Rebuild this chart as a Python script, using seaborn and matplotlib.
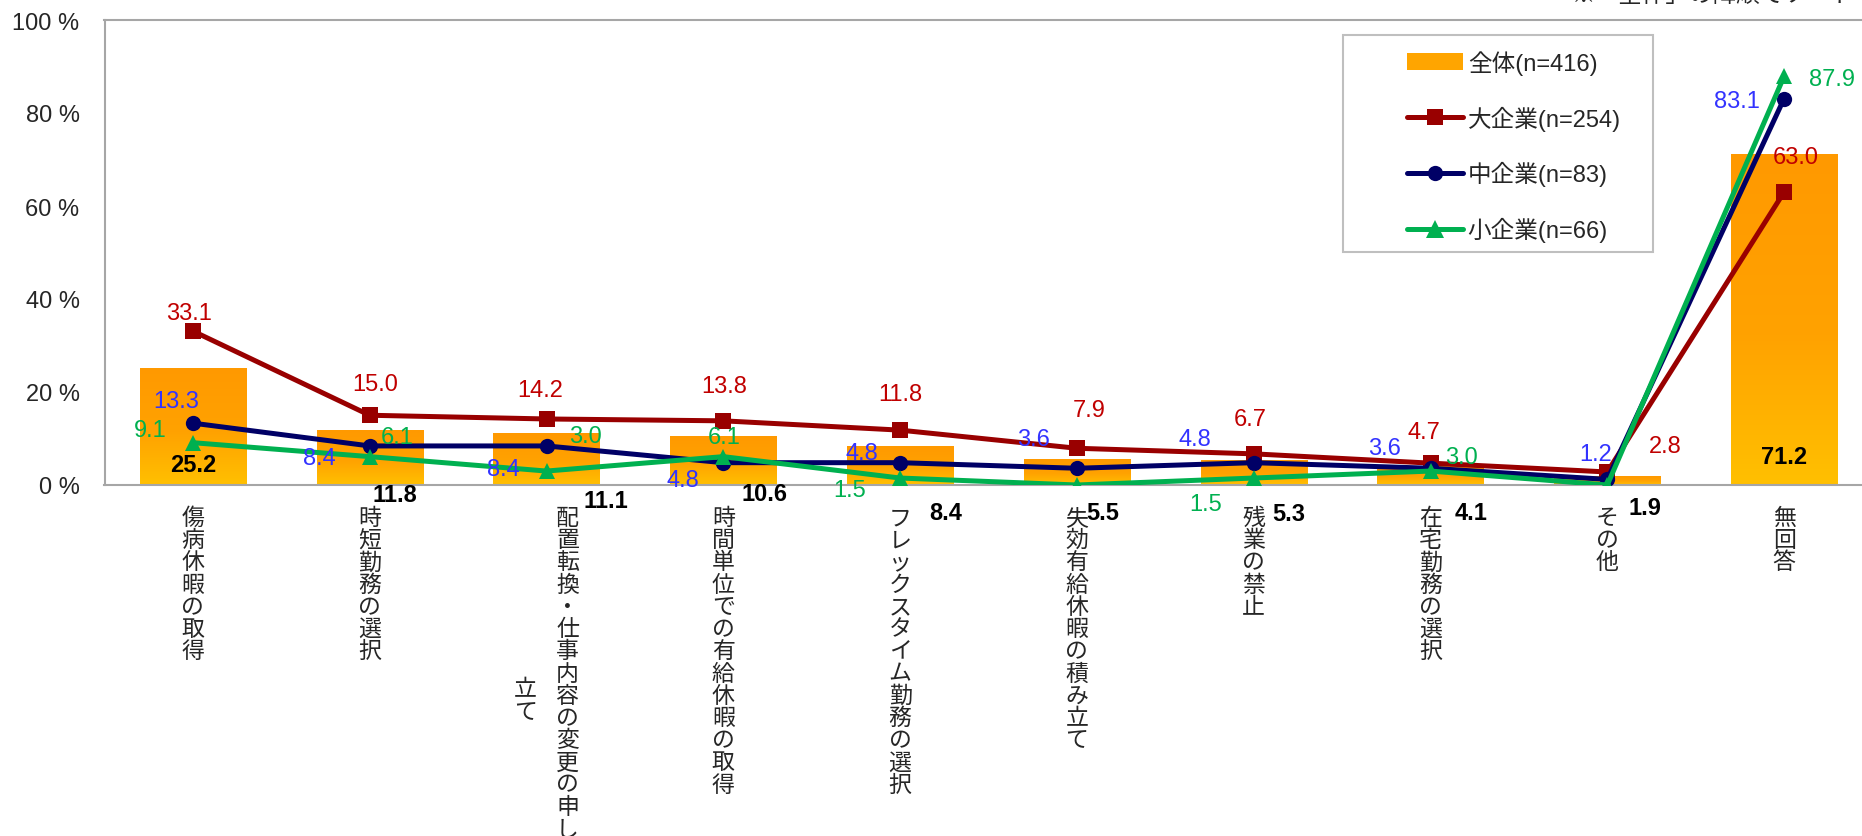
import numpy as np
import pandas as pd
import matplotlib
matplotlib.use('Agg')
import matplotlib.pyplot as plt
from matplotlib.colors import LinearSegmentedColormap
from matplotlib.lines import Line2D
from matplotlib.patches import Patch, Rectangle
import seaborn as sns

# data
categories = ['傷病休暇の取得', '時短勤務の選択', '配置転換・仕事内容の変更の申し立て',
              '時間単位での有給休暇の取得', 'フレックスタイム勤務の選択',
              '失効有給休暇の積み立て', '残業の禁止', '在宅勤務の選択', 'その他', '無回答']
total = [25.2, 11.8, 11.1, 10.6, 8.4, 5.5, 5.3, 4.1, 1.9, 71.2]
large = [33.1, 15.0, 14.2, 13.8, 11.8, 7.9, 6.7, 4.7, 2.8, 63.0]
medium = [13.3, 8.4, 8.4, 4.8, 4.8, 3.6, 4.8, 3.6, 1.2, 83.1]
small = [9.1, 6.1, 3.0, 6.1, 1.5, 0.0, 1.5, 3.0, 0.0, 87.9]
total_name = '全体(n=416)'
series_names = ['大企業(n=254)', '中企業(n=83)', '小企業(n=66)']
yticks = [0, 20, 40, 60, 80, 100]
note = '※「全体」の降順でソート'

# label offsets in pixels (dx, dy up)
red_off = [(-4, 21), (5, 34), (-6, 31), (1, 37), (0, 39), (12, 41), (-3, 37), (-7, 34), (58, 28), (12, 38)]
blue_off = [(-17, 25), (-50, -10), (-43, -21), (-40, -15), (-38, 12), (-43, 32), (-59, 26), (-46, 23), (-12, 28), (-47, 0)]
green_off = [(-43, 15), (27, 22), (39, 38), (1, 22), (-50, -9), None, (-48, -23), (31, 17), None, (48, 0)]
bar_off = [(0, 23), (25, -7), (59, -13), (41, -6), (46, -25), (26, -25), (35, -26), (41, -25), (38, -20), (0, 31)]

line_colors = ['#990000', '#000066', '#00B050']
text_colors = ['#C00000', '#3333FF', '#00B050']

sns.set_theme(style='white')
plt.rcParams['font.family'] = ['Liberation Sans', 'Noto Sans CJK JP']
FS = 17
CJK_FS = 16.5
CJK_LS = 0.957
PITCH = 22.0  # px between stacked characters

W, H = 1862, 837
fig = plt.figure(figsize=(W / 100, H / 100), dpi=100)
ax = fig.add_axes([104.5 / W, 1 - 486 / H, 1768 / W, 465 / H])

# bars (overall), with a vertical orange gradient
bar_df = pd.DataFrame({'cat': categories, 'value': total})
sns.barplot(data=bar_df, x='cat', y='value', color='#FFA500', width=0.6,
            saturation=1, ax=ax, zorder=1)
cmap = LinearSegmentedColormap.from_list('bar', [(0, '#FFC000'), (0.45, '#FFA200'), (1, '#FF9900')])
grad = np.linspace(0, 1, 256).reshape(-1, 1)
for p in list(ax.patches):
    x0, y0, w, h = p.get_x(), p.get_y(), p.get_width(), p.get_height()
    im = ax.imshow(grad, cmap=cmap, origin='lower', aspect='auto',
                   extent=(x0, x0 + w, y0, y0 + h), zorder=1.5)
    im.set_clip_path(p)

# lines by company size
x = np.arange(len(categories))
line_df = pd.DataFrame({
    'x': np.tile(x, 3),
    'value': large + medium + small,
    'series': np.repeat(series_names, len(categories)),
})
sns.lineplot(data=line_df, x='x', y='value', hue='series', style='series',
             markers=['s', 'o', '^'], dashes=False, palette=line_colors,
             linewidth=3.6, markersize=11, markeredgewidth=0, legend=False,
             ax=ax, zorder=3)
ax.lines[2].set_markersize(13)

# data labels
for vals, offs, col in zip([large, medium, small], [red_off, blue_off, green_off], text_colors):
    for i, (v, off) in enumerate(zip(vals, offs)):
        if off is None:
            continue
        ax.annotate(f'{v:.1f}', (i, v), xytext=off, textcoords='offset pixels',
                    ha='center', va='center_baseline', color=col, fontsize=FS, zorder=6)
for i, (v, off) in enumerate(zip(total, bar_off)):
    ax.annotate(f'{v:.1f}', (i, 0), xytext=off, textcoords='offset pixels',
                ha='center', va='center_baseline', color='black', fontsize=FS,
                fontweight='bold', zorder=6, annotation_clip=False)

# axes styling
ax.set_xlim(-0.5, len(categories) - 0.5)
ax.set_ylim(0, 100)
ax.set_yticks(yticks)
ax.set_yticklabels([f'{v} %' for v in yticks], fontsize=FS)
ax.tick_params(axis='y', length=0, pad=18)
ax.set_xlabel('')
ax.set_ylabel('')
for s in ['left', 'top', 'bottom']:
    ax.spines[s].set_color('#A6A6A6')
    ax.spines[s].set_linewidth(1.5)
ax.spines['right'].set_visible(False)

# vertical (tategaki) category labels; the long one wraps into two columns
labels = []
for i, c in enumerate(categories):
    if len(c) > 15:
        right, left = c[:15], c[15:]
        labels.append('')
        ax.annotate('\n'.join(right), (i, 0), xytext=(21, -21), textcoords='offset pixels',
                    ha='center', va='top', fontsize=CJK_FS, family=['Noto Sans CJK JP'],
                    linespacing=CJK_LS, annotation_clip=False)
        ax.annotate('\n'.join(left), (i, 0), xytext=(-21, -21 - PITCH * 7.8),
                    textcoords='offset pixels', ha='center', va='top', fontsize=CJK_FS,
                    family=['Noto Sans CJK JP'], linespacing=CJK_LS, annotation_clip=False)
    else:
        labels.append('\n'.join(c))
ax.set_xticks(x)
ax.set_xticklabels(labels, fontsize=CJK_FS, family=['Noto Sans CJK JP'], linespacing=CJK_LS, va='top')
ax.tick_params(axis='x', which='major', length=0, pad=21 / 1.389)
ax.set_xticks(np.arange(-0.5, len(categories), 1), minor=True)
ax.tick_params(axis='x', which='minor', length=5, width=1.5, color='#A6A6A6', direction='out')

# legend
ax.add_patch(Rectangle(((1343 - 104.5) / 1768, (486 - 253) / 465), 310 / 1768, 217 / 465,
                       transform=ax.transAxes, facecolor='white', edgecolor='#BFBFBF',
                       linewidth=1.5, zorder=4))
handles = [Patch(facecolor='#FFA500', edgecolor='none', label=total_name)]
for name, col, m, ms in zip(series_names, line_colors, ['s', 'o', '^'], [11, 11, 13]):
    handles.append(Line2D([], [], color=col, linewidth=3.6, marker=m, markersize=ms,
                          markeredgewidth=0, label=name))
leg = ax.legend(handles=handles, loc='upper left', bbox_to_anchor=((1407 - 104.5) / 1768, (486 - 51) / 465),
                frameon=False, fontsize=FS, borderpad=0, borderaxespad=0, handlelength=2.37,
                handletextpad=0.2, labelspacing=1.3, numpoints=1)
leg.set_zorder(5)

fig.text(1572 / W, 1 - 2 / H, note, ha='left', va='baseline', fontsize=FS)

fig.savefig('out.png', dpi=100)
